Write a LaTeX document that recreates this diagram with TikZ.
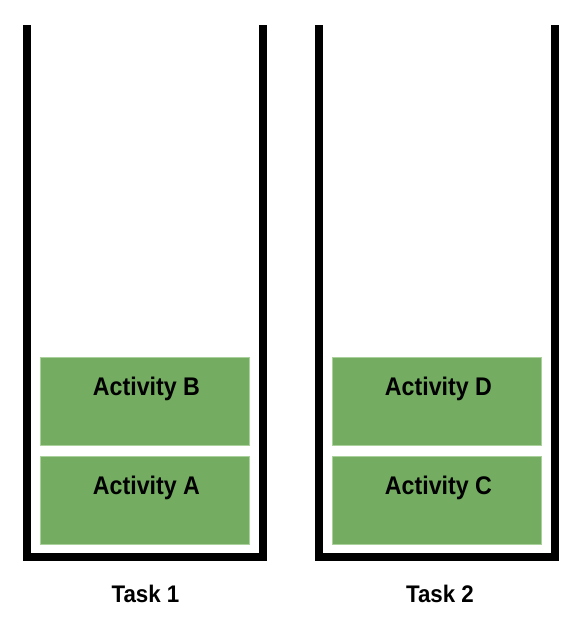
\documentclass[tikz,border=0pt]{standalone}
\usepackage{fontspec}
\setmainfont{Liberation Sans}
\definecolor{actgreen}{RGB}{116,173,97}
\definecolor{actedge}{RGB}{170,208,155}
\begin{document}
\begin{tikzpicture}[x=1pt,y=-1pt,
  wall/.style={line width=8pt, line join=miter, line cap=butt, black},
  actbox/.style={fill=actgreen, draw=actedge, line width=0.8pt, minimum width=208.6pt, minimum height=88pt, inner sep=0pt, outer sep=0pt},
  acttext/.style={anchor=base, inner sep=0pt, font=\fontsize{25.5}{30}\selectfont\bfseries},
  tasktext/.style={anchor=base, inner sep=0pt, font=\fontsize{24}{28}\selectfont\bfseries}]
\useasboundingbox (0,0) rectangle (586,624);
\fill[white] (0,0) rectangle (586,624);
% containers
\coordinate (t1tl) at (27,25);
\coordinate (t1bl) at (27,557.3);
\coordinate (t1br) at (262.7,557.3);
\coordinate (t1tr) at (262.7,25);
\coordinate (t2tl) at (319.3,25);
\coordinate (t2bl) at (319.3,557.3);
\coordinate (t2br) at (554.7,557.3);
\coordinate (t2tr) at (554.7,25);
\draw[wall] (t1tl) -- (t1bl) -- (t1br) -- (t1tr);
\draw[wall] (t2tl) -- (t2bl) -- (t2br) -- (t2tr);
% activity boxes
\node[actbox] (actB) at (145,401.3) {};
\node[actbox] (actA) at (145,500.5) {};
\node[actbox] (actD) at (437,401.3) {};
\node[actbox] (actC) at (437,500.5) {};
\node[acttext] (labB) at ([xshift=1.5pt,yshift=-38.4pt]actB.north) {\scalebox{0.91}[1]{Activity B}};
\node[acttext] (labA) at ([xshift=1.5pt,yshift=-38pt]actA.north) {\scalebox{0.91}[1]{Activity A}};
\node[acttext] (labD) at ([xshift=1.5pt,yshift=-38.4pt]actD.north) {\scalebox{0.91}[1]{Activity D}};
\node[acttext] (labC) at ([xshift=1.5pt,yshift=-38pt]actC.north) {\scalebox{0.91}[1]{Activity C}};
% task labels
\node[tasktext] (task1) at (145.5,602.7) {\scalebox{0.93}[1]{Task 1}};
\node[tasktext] (task2) at (440,602.7) {\scalebox{0.93}[1]{Task 2}};
\end{tikzpicture}
\end{document}
